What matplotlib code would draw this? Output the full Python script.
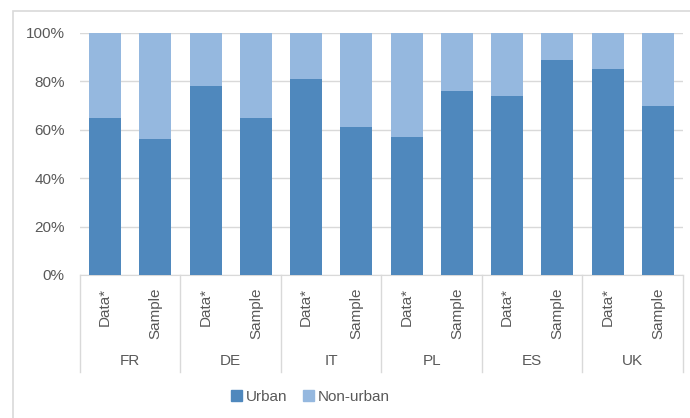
import numpy as np
import matplotlib.pyplot as plt
from matplotlib.patches import Rectangle, Patch
from matplotlib import rcParams
rcParams['font.family'] = ['Liberation Sans', 'DejaVu Sans']

countries = ['FR', 'DE', 'IT', 'PL', 'ES', 'UK']
sources = ['Data*', 'Sample']
# share of urban respondents (%), pairs: Data*, Sample
urban = [65, 56, 78, 65, 81, 61, 57, 76, 74, 89, 85, 70]
non_urban = [100 - u for u in urban]

c_urban = '#4F88BD'
c_non = '#95B8DF'
txt = '#595959'
grid = '#D9D9D9'

fig = plt.figure(figsize=(6.9, 4.18), dpi=100)
ax = fig.add_axes([80/690, 1 - 275/418, 603/690, 242/418])

# outer chart frame (right and bottom edges fall outside the image)
fig.patches.append(Rectangle((13/690, -0.1), 1.2, 1 - 11/418 + 0.1,
                             transform=fig.transFigure, fill=False,
                             edgecolor=grid, linewidth=1.2))

x = np.arange(len(urban))
ax.bar(x, urban, width=0.64, color=c_urban, zorder=3)
ax.bar(x, non_urban, width=0.64, bottom=urban, color=c_non, zorder=3)

ax.set_xlim(-0.5, len(urban) - 0.5)
ax.set_ylim(0, 100)
ax.set_yticks(range(0, 101, 20))
ax.set_yticklabels(['%d%%' % v for v in range(0, 101, 20)], color=txt, fontsize=11)
ax.yaxis.grid(True, color=grid, linewidth=1, zorder=0)
ax.tick_params(axis='y', length=0, pad=11)
for s in ['top', 'right', 'left']:
    ax.spines[s].set_visible(False)
ax.spines['bottom'].set_color(grid)

ax.set_xticks(x)
ax.set_xticklabels(sources * len(countries), rotation=90, color=txt, fontsize=11)
ax.tick_params(axis='x', length=0, pad=9)

trans = ax.get_xaxis_transform()
for i in range(len(countries) + 1):
    ax.plot([2*i - 0.5, 2*i - 0.5], [0, -0.40], transform=trans, color=grid,
            linewidth=1, clip_on=False)
for i, c in enumerate(countries):
    ax.text(2*i + 0.5, -0.355, c, transform=trans, ha='center', va='center',
            color=txt, fontsize=11)

handles = [Patch(color=c_urban, label='Urban'), Patch(color=c_non, label='Non-urban')]
fig.legend(handles=handles, loc='center', bbox_to_anchor=(0.45, 1 - 397/418), ncol=2,
           frameon=False, fontsize=11, handlelength=0.7, handleheight=0.7,
           handletextpad=0.3, columnspacing=1.0, labelcolor=txt)

plt.savefig('out.png', dpi=100)
